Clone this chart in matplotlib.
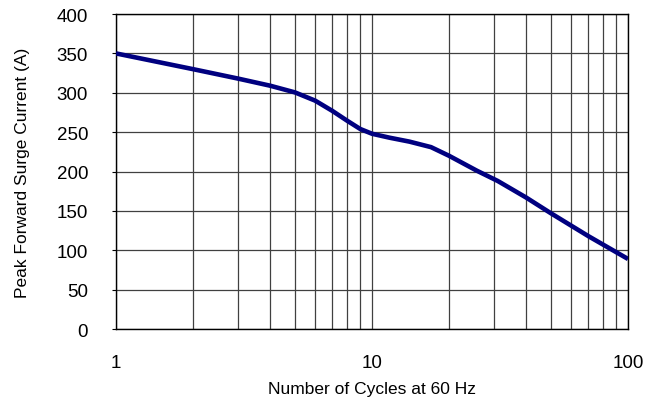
""" Peak forward surge current vs number of cycles at 60 Hz """

import matplotlib
matplotlib.use("Agg")
import matplotlib.pyplot as plt
from matplotlib.ticker import FixedLocator, NullFormatter

plt.rcParams['font.family'] = ['Liberation Sans', 'DejaVu Sans']

# values
cycles = [1, 2, 3, 4, 5, 6, 7, 8, 9, 10, 11.7, 14, 17, 20, 25.7, 31, 40, 50, 70, 100]
current = [350, 330, 318, 309, 300.5, 290, 277, 264.5, 254, 248, 243, 238, 231, 220, 201, 188,
           167, 147, 118, 89]

x_ticks = [1, 10, 100]
x_tick_labels = ['1', '10', '100']
y_ticks = [0, 50, 100, 150, 200, 250, 300, 350, 400]

fig = plt.figure(figsize=(6.59, 4.06), dpi=100)
ax = fig.add_axes([0.176, 0.187, 0.777, 0.776])

ax.semilogx(cycles, current, color='#000080', lw=3.3, solid_capstyle='butt',
            solid_joinstyle='round', zorder=3)

ax.set_xlim(1, 100)
ax.set_ylim(0, 400)
ax.set_xticks(x_ticks)
ax.set_xticklabels(x_tick_labels)
ax.xaxis.set_minor_locator(FixedLocator([m * d for d in (1, 10) for m in range(2, 10)]))
ax.xaxis.set_minor_formatter(NullFormatter())
ax.set_yticks(y_ticks)

ax.grid(True, which='both', axis='x', color='#404040', lw=0.9)
ax.grid(True, which='major', axis='y', color='#404040', lw=0.9)
for s in ax.spines.values():
    s.set_color('black')
    s.set_linewidth(1.0)

ax.tick_params(axis='x', which='both', length=0, pad=18, labelsize=13.5)
ax.tick_params(axis='y', length=3, width=0.8, pad=17, labelsize=13.5)

ax.set_xlabel('Number of Cycles at 60 Hz', fontsize=12.5)
ax.set_ylabel('Peak Forward Surge Current (A)', fontsize=12.5)
ax.xaxis.set_label_coords(0.5, -0.165)
ax.yaxis.set_label_coords(-0.168, 0.5)

fig.savefig('out.png', dpi=100)
